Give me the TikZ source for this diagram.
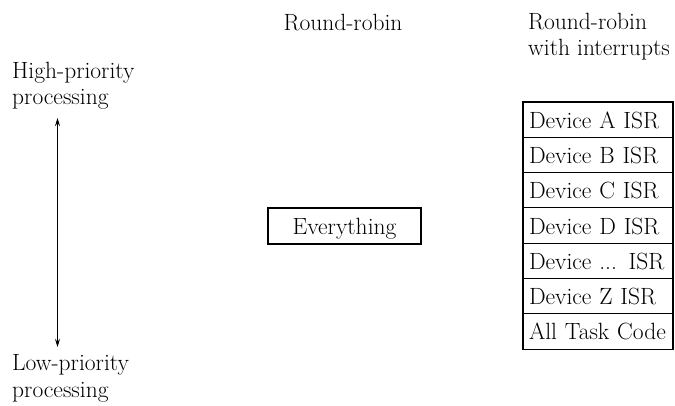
\documentclass[tikz,border=0pt]{standalone}
\usetikzlibrary{arrows.meta,positioning}
\begin{document}
\begin{tikzpicture}[x=1pt,y=-1pt,
  lbl/.style={inner sep=0pt,align=left,font=\fontsize{23.5}{26.5}\selectfont},
  cell/.style={draw,line width=1.1pt,minimum width=150pt,minimum height=35.3pt,
    inner xsep=6pt,inner ysep=0pt,outer sep=0pt,text height=17pt,text depth=0pt,
    text width=138pt,align=left,font=\fontsize{23.5}{26}\selectfont},
  prio/.style={line width=1.1pt,{Stealth[length=8pt,width=5pt]}-{Stealth[length=8pt,width=5pt]}}]
\useasboundingbox (0,0) rectangle (675,405);

% priority scale on the left
\node[lbl,anchor=north west] (hi) at (12,61.5) {High-priority\\processing};
\node[lbl,anchor=north west] (lo) at (12,354.5) {Low-priority\\processing};
\coordinate (top) at (57.5,118);
\coordinate (bot) at (57.5,347);
\draw[prio] (bot) -- (top);

% plain round-robin: one level
\node[lbl,anchor=north] (rrhead) at (343,13.8) {Round-robin};
\node[draw,line width=1.1pt,minimum width=153pt,minimum height=36pt,inner sep=0pt,
  text height=17pt,text depth=0pt,font=\fontsize{23.5}{26}\selectfont]
  (all) at (344.5,226) {Everything};

% round-robin with interrupts: stacked priority levels
\node[lbl,anchor=north west] (rihead) at (528,12.5) {Round-robin\\with interrupts};
\node[cell,anchor=north west] (a) at (523,102) {Device A ISR};
\node[cell,below=0pt of a] (b) {Device B ISR};
\node[cell,below=0pt of b] (c) {Device C ISR};
\node[cell,below=0pt of c] (d) {Device D ISR};
\node[cell,below=0pt of d] (e) {Device ... ISR};
\node[cell,below=0pt of e] (z) {Device Z ISR};
\node[cell,below=0pt of z] (t) {All Task Code};
\end{tikzpicture}
\end{document}
